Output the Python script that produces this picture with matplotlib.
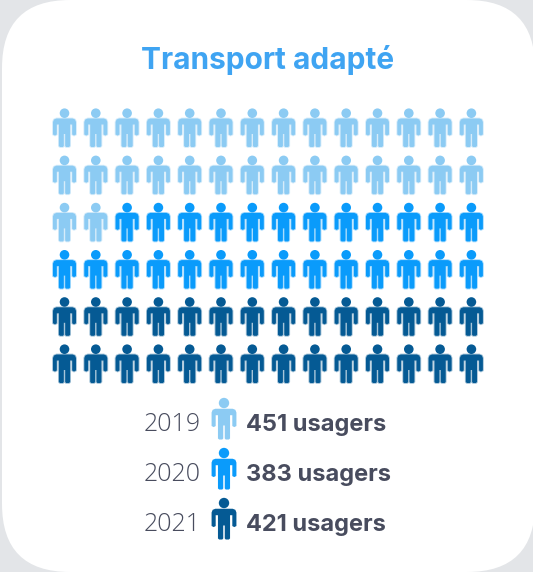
"""Pictogram of paratransit users per year, one icon per block of users."""

import matplotlib

matplotlib.use("Agg")
import matplotlib.pyplot as plt
from matplotlib.patches import Circle, FancyBboxPatch, Polygon
from matplotlib.transforms import Affine2D

plt.rcParams["font.family"] = ["Inter", "DejaVu Sans"]

TITLE = "Transport adapté"
YEARS = ["2019", "2020", "2021"]
USERS = [451, 383, 421]
ICON_COUNTS = [30, 26, 28]
COLORS = ["#8ccbf3", "#0a9bfb", "#055a94"]

N_COLS = 14
TEXT_DARK = "#484c5e"

# person outline, x from -11.5 to 11.5, y from -19.5 to 19.5
BODY = [
    (-8, -9.5), (8, -9.5), (10.5, -8.5), (11.5, -6), (11.5, 6.5), (9.5, 7.5), (7.7, 6.5),
    (7.7, -3.5), (5.6, -3.5), (5.6, 18), (4.5, 19), (1.6, 19), (0.7, 18), (0.7, 6),
    (-0.7, 6), (-0.7, 18), (-1.6, 19), (-4.5, 19), (-5.6, 18), (-5.6, -3.5), (-7.7, -3.5),
    (-7.7, 6.5), (-9.5, 7.5), (-11.5, 6.5), (-11.5, -6), (-10.5, -8.5),
]
HEAD_Y = -14.8
HEAD_R = 4.8


def draw_person(ax, x, y, color, scale=1.0, halo=True):
    tr = Affine2D().scale(scale).translate(x, y) + ax.transData
    if halo:
        # soft edge, the icons in the grid look slightly blurred
        ax.add_patch(Polygon(BODY, closed=True, facecolor="none", edgecolor=color, alpha=0.35,
                             lw=1.3, joinstyle="round", transform=tr, zorder=2))
    ax.add_patch(Polygon(BODY, closed=True, facecolor=color, edgecolor="none",
                         transform=tr, zorder=3))
    ax.add_patch(Circle((0, HEAD_Y), HEAD_R, facecolor=color, edgecolor="none",
                        transform=tr, zorder=3))


fig = plt.figure(figsize=(5.33, 5.72), dpi=100, facecolor="#e3e5e8")
ax = fig.add_axes([0, 0, 1, 1])
ax.set_xlim(0, 533)
ax.set_ylim(572, 0)
ax.axis("off")

# white card
ax.add_patch(FancyBboxPatch((2, 0), 533, 572, boxstyle="round,pad=0,rounding_size=68",
                            facecolor="white", edgecolor="none", zorder=1))

ax.text(268, 69, TITLE, ha="center", va="baseline", fontsize=21.5,
        fontweight="bold", color="#3fa4f2", zorder=4)

# icon grid, filled row by row from the top
colors = [c for c, n in zip(COLORS, ICON_COUNTS) for _ in range(n)]
for i, color in enumerate(colors):
    row, col = divmod(i, N_COLS)
    draw_person(ax, 64.5 + col * 31.3, 128 + row * 47.2, color)

# legend
for i, (year, users, color) in enumerate(zip(YEARS, USERS, COLORS)):
    y = 419 + i * 50
    ax.text(201, y + 12, year, ha="right", va="baseline", fontsize=18,
            family="Open Sans", fontweight="light", color=TEXT_DARK, zorder=4)
    draw_person(ax, 224, y, color, scale=1.08, halo=False)
    ax.text(246, y + 12, f"{users} usagers", ha="left", va="baseline", fontsize=17,
            fontweight="bold", color=TEXT_DARK, zorder=4)

fig.savefig("out.png", dpi=100, facecolor=fig.get_facecolor())
